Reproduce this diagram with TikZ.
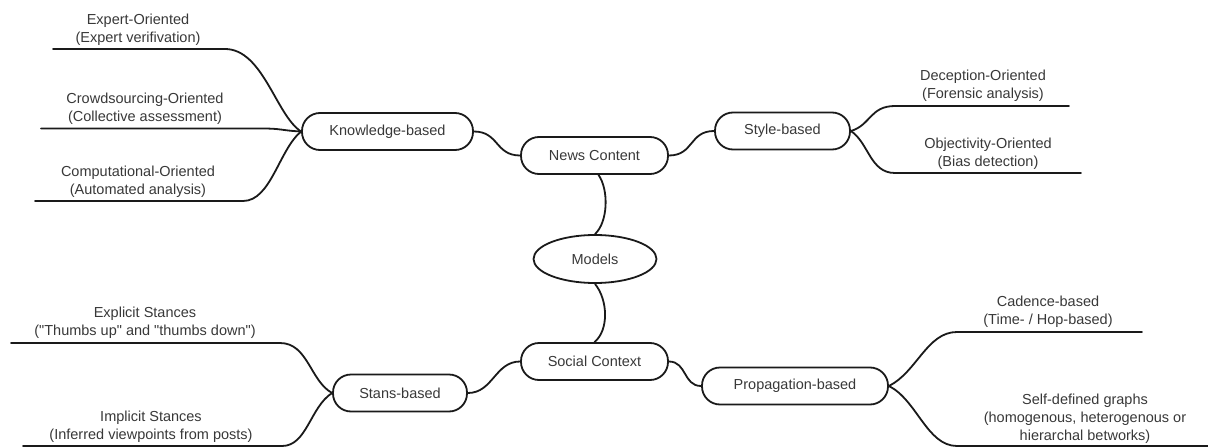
\documentclass[tikz,border=0pt]{standalone}
\usepackage{fontspec}
\setmainfont{Liberation Sans}
\usetikzlibrary{shapes.geometric}
\definecolor{txt}{HTML}{383838}
\definecolor{ink}{HTML}{1A1A1A}
\begin{document}
\begin{tikzpicture}[x=1pt,y=-1pt,
  font=\fontsize{14.5}{18}\selectfont,
  every node/.style={text=txt},
  pill/.style={draw=ink,line width=1.8pt,rounded corners=18pt,minimum height=37pt,inner sep=0pt},
  oval/.style={draw=ink,line width=1.8pt,ellipse,minimum width=123pt,minimum height=48pt,inner sep=0pt},
  leaf/.style={align=center,inner sep=0pt},
  link/.style={draw=ink,line width=1.8pt,line cap=round}]
\useasboundingbox (0,0) rectangle (1208,447);

% central hub and the two main groups
\node[oval] (models) at (595,259) {Models};
\node[pill,minimum width=147pt] (news) at (594.5,155.5) {News Content};
\node[pill,minimum width=147pt] (social) at (594.5,361.5) {Social Context};

% second level
\node[pill,minimum width=171pt] (know) at (387.5,131.5) {Knowledge-based};
\node[pill,minimum width=135pt] (style) at (782.5,131) {Style-based};
\node[pill,minimum width=134pt] (stans) at (400,393) {Stans-based};
\node[pill,minimum width=186pt] (prop) at (795,386) {Propagation-based};

% leaf labels
\node[leaf] (t1) at (138,30) {Expert-Oriented\\(Expert verifivation)};
\node[leaf] (t2) at (145,109) {Crowdsourcing-Oriented\\(Collective assessment)};
\node[leaf] (t3) at (138,182) {Computational-Oriented\\(Automated analysis)};
\node[leaf] (t4) at (145,323) {Explicit Stances\\(\textquotedbl Thumbs up\textquotedbl{} and \textquotedbl thumbs down\textquotedbl)};
\node[leaf] (t5) at (151,427) {Implicit Stances\\(Inferred viewpoints from posts)};
\node[leaf] (t6) at (983,86) {Deception-Oriented\\(Forensic analysis)};
\node[leaf] (t7) at (988,153.5) {Objectivity-Oriented\\(Bias detection)};
\node[leaf] (t8) at (1048,312) {Cadence-based\\(Time- / Hop-based)};
\node[leaf] (t9) at (1085,419) {Self-defined graphs\\(homogenous, heterogenous or\\hierarchal betworks)};

% ends of the leaf underlines
\coordinate (a1) at (53,49);   \coordinate (b1) at (225,49);
\coordinate (a2) at (41,128.5);\coordinate (b2) at (262,128.5);
\coordinate (a3) at (35,201);  \coordinate (b3) at (243,201);
\coordinate (a4) at (11,343);  \coordinate (b4) at (280,343);
\coordinate (a5) at (23,446);  \coordinate (b5) at (282,446);
\coordinate (a6) at (1069,106);\coordinate (b6) at (895,106);
\coordinate (a7) at (1081,173);\coordinate (b7) at (895,173);
\coordinate (a8) at (1142,332);\coordinate (b8) at (957,332);
\coordinate (a9) at (1208,446);\coordinate (b9) at (957,446);

% spine
\draw[link] (news.south) ++(4,0) coordinate (ns) .. controls (609,190) and (608,222) .. (models.north);
\draw[link] (models.south) .. controls (608,300) and (609,330) .. (social.north);

% main groups to second level
\draw[link] (news.west) .. controls +(-25,0) and +(25,0) .. (know.east);
\draw[link] (news.east) .. controls +(25,0) and +(-25,0) .. (style.west);
\draw[link] (social.west) .. controls +(-25,0) and +(25,0) .. (stans.east);
\draw[link] (social.east) .. controls +(18,0) and +(-18,0) .. (prop.west);

% knowledge-based leaves
\draw[link] (a1) -- (b1) .. controls +(38,0) and +(-25,-16) .. (know.west);
\draw[link] (a2) -- (b2) .. controls +(20,0) and +(-20,-1) .. (know.west);
\draw[link] (a3) -- (b3) .. controls +(28,0) and +(-22,18) .. (know.west);

% stance leaves
\draw[link] (a4) -- (b4) .. controls +(28,0) and +(-22,-12) .. (stans.west);
\draw[link] (a5) -- (b5) .. controls +(25,0) and +(-22,14) .. (stans.west);

% style leaves
\draw[link] (a6) -- (b6) .. controls +(-25,0) and +(20,-6) .. (style.east);
\draw[link] (a7) -- (b7) .. controls +(-25,0) and +(18,12) .. (style.east);

% propagation leaves
\draw[link] (a8) -- (b8) .. controls +(-30,0) and +(28,-14) .. (prop.east);
\draw[link] (a9) -- (b9) .. controls +(-30,0) and +(28,14) .. (prop.east);
\end{tikzpicture}
\end{document}
